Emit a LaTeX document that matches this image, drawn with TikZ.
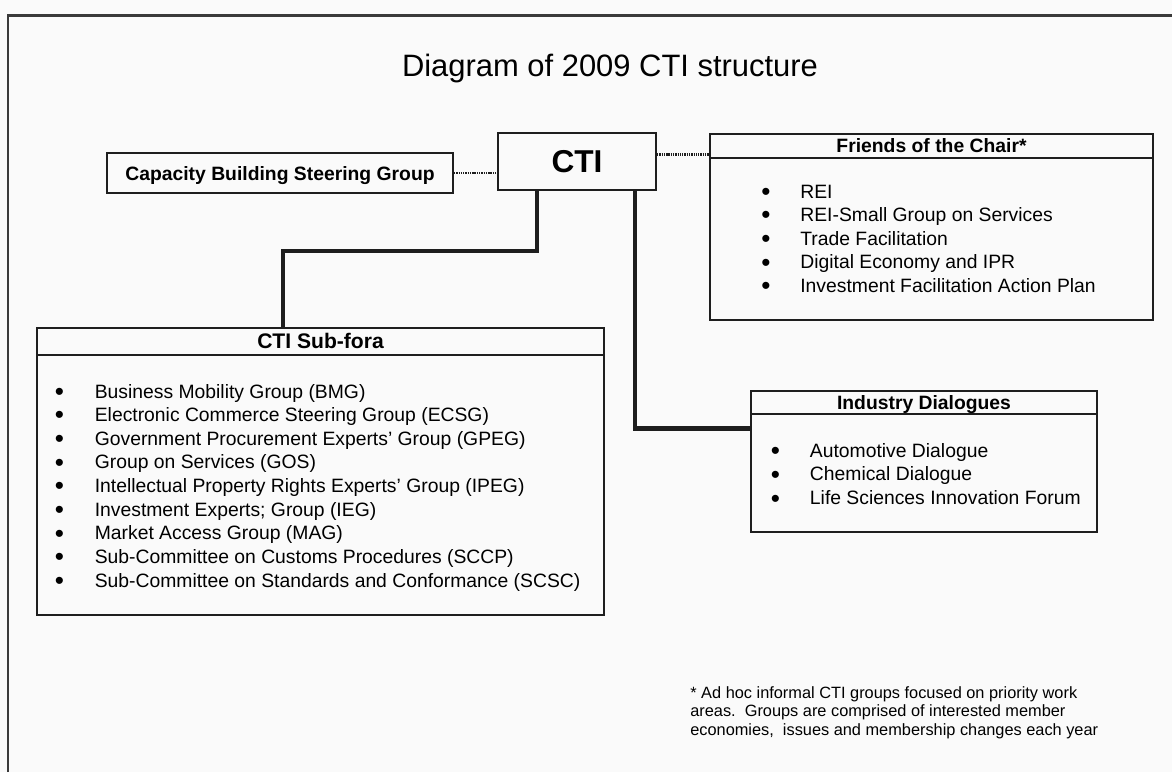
\documentclass[tikz,border=0pt]{standalone}
\usepackage{fontspec}
\setmainfont{Liberation Sans}
\usetikzlibrary{positioning}

\definecolor{linecol}{HTML}{1E1E1E}
\definecolor{framecol}{HTML}{3A3A3A}
\definecolor{pagecol}{HTML}{FAFAFA}

\newcommand{\listdot}{\raisebox{-0.12em}{\scalebox{1.35}{\textbullet}}}

\tikzset{
  box/.style={draw=linecol,line width=1.1pt,inner sep=0pt},
  headbox/.style={draw=linecol,line width=0.9pt,inner sep=0pt,
    font=\bfseries\fontsize{11}{13}\selectfont,text height=8pt,text depth=0pt},
  dotline/.style={draw=linecol,line width=1.2pt,dash pattern=on 0.8pt off 0.5pt},
  link/.style={draw=linecol,line width=2.3pt},
  itemlist/.style={inner sep=0pt,anchor=base west,font=\fontsize{11}{13.45}\selectfont},
}

\begin{document}
\begin{tikzpicture}[x=0.02cm,y=-0.02cm]
    \fill[pagecol] (0,0) rectangle (1172,772);
    \useasboundingbox (0,0) rectangle (1172,772);
    \draw[framecol,line width=1.5pt] (8,772) -- (8,15.7) -- (1172,15.7);

    % title
    \node[anchor=base,font=\fontsize{17.6}{20}\selectfont] (title) at (610,76) {Diagram of 2009 CTI structure};

    % top row
    \node[box,minimum width=3.16cm,minimum height=1.14cm,
      font=\bfseries\fontsize{18}{20}\selectfont,text height=13pt,text depth=0pt] (cti) at (577,161.5) {CTI};
    \node[box,minimum width=6.92cm,minimum height=0.8cm,
      font=\bfseries\fontsize{11}{13}\selectfont,text height=8pt,text depth=0pt] (cbsg) at (280,173) {Capacity Building Steering Group};

    % friends of the chair
    \node[box,minimum width=8.86cm,minimum height=3.72cm] (fotc) at (931.5,227) {};
    \node[headbox,minimum width=8.86cm,minimum height=0.48cm,anchor=north] (fotchead) at (fotc.north) {Friends of the Chair*};
    \node[itemlist] (fotclist) at (761,198) {\begin{tabular}[t]{@{}l@{\hspace{17pt}}l@{}}
      \listdot & REI\\
      \listdot & REI-Small Group on Services\\
      \listdot & Trade Facilitation\\
      \listdot & Digital Economy and IPR\\
      \listdot & Investment Facilitation Action Plan
    \end{tabular}};

    % sub-fora
    \node[box,minimum width=11.34cm,minimum height=5.74cm] (subfora) at (320.5,471.5) {};
    \node[headbox,minimum width=11.34cm,minimum height=0.54cm,anchor=north,
      font=\bfseries\fontsize{12}{14}\selectfont] (subhead) at (subfora.north) {CTI Sub-fora};
    \node[itemlist] (sublist) at (54.6,398) {\begin{tabular}[t]{@{}l@{\hspace{17.5pt}}l@{}}
      \listdot & Business Mobility Group (BMG)\\
      \listdot & Electronic Commerce Steering Group (ECSG)\\
      \listdot & Government Procurement Experts' Group (GPEG)\\
      \listdot & Group on Services (GOS)\\
      \listdot & Intellectual Property Rights Experts' Group (IPEG)\\
      \listdot & Investment Experts; Group (IEG)\\
      \listdot & Market Access Group (MAG)\\
      \listdot & Sub-Committee on Customs Procedures (SCCP)\\
      \listdot & Sub-Committee on Standards and Conformance (SCSC)
    \end{tabular}};

    % industry dialogues
    \node[box,minimum width=6.92cm,minimum height=2.82cm] (indus) at (924,461.5) {};
    \node[headbox,minimum width=6.92cm,minimum height=0.46cm,anchor=north] (indhead) at (indus.north) {Industry Dialogues};
    \node[itemlist,font=\fontsize{11}{13.6}\selectfont] (indlist) at (770.6,457) {\begin{tabular}[t]{@{}l@{\hspace{17pt}}l@{}}
      \listdot & Automotive Dialogue\\
      \listdot & Chemical Dialogue\\
      \listdot & Life Sciences Innovation Forum
    \end{tabular}};

    % connectors
    \draw[dotline,line width=0.9pt] (cbsg.east) -- (cbsg.east -| cti.west);
    \coordinate (fdot) at ([yshift=2.3pt]fotchead.south west);
    \draw[dotline,line width=1.5pt] (fdot -| cti.east) -- (fdot);
    \draw[link] ([xshift=-22.7pt]cti.south) -- ++(0,60) -| ([xshift=-21.3pt]subfora.north);
    \draw[link] ([xshift=32.9pt]cti.south) |- ([yshift=-7.9pt]indhead.south west);

    % footnote
    \node[itemlist,font=\fontsize{9.3}{10.5}\selectfont] (note) at (690,698.5) {\begin{tabular}[t]{@{}l@{}}
      * Ad hoc informal CTI groups focused on priority work\\
      areas.\ \ Groups are comprised of interested member\\
      economies,\ \ issues and membership changes each year
    \end{tabular}};
  \end{tikzpicture}
\end{document}
